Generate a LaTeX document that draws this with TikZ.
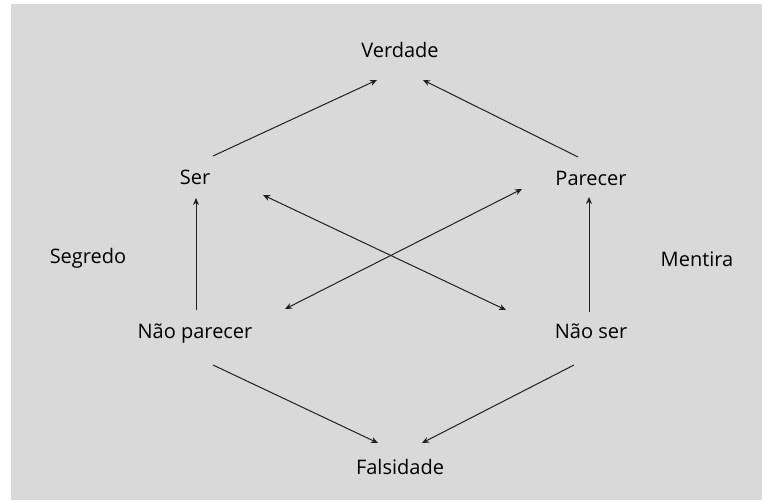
\documentclass[tikz,border=0pt]{standalone}
\usepackage{fontspec}
\setmainfont{Open Sans}
\usepackage{tikz}
\usetikzlibrary{arrows.meta, positioning}
\definecolor{bggray}{HTML}{D9D9D9}
\definecolor{linegray}{HTML}{202020}
\tikzstyle{term} = [inner sep=0pt,
text=black,
font=\fontsize{20pt}{24pt}\selectfont]
\tikzstyle{arrow} = [line width=1pt, draw=linegray,
-{Stealth[length=7pt,width=6pt]}]
\tikzstyle{contra} = [line width=1pt, draw=linegray,
{Stealth[length=7pt,width=6pt]}-{Stealth[length=7pt,width=6pt]}]

\begin{document}
\begin{tikzpicture}[x=1pt, y=1pt, node distance=100pt, on grid]
            \useasboundingbox (0,0) rectangle (762,-500);
            \fill[bggray] (11,-4) rectangle (762,-500);

            \node (verdade) [term] at (400,-50) {Verdade};
            \node (ser) [term, below left=127pt and 205pt of verdade] {Ser};
            \node (parecer) [term, below right=128pt and 191pt of verdade] {Parecer};
            \node (naoparecer) [term, below=157pt of ser] {Não parecer};
            \node (naoser) [term, below=153pt of parecer] {Não ser};
            \node (falsidade) [term, below=417pt of verdade] {Falsidade};
            \node (segredo) [term, below left=81pt and 107pt of ser] {Segredo};
            \node (mentira) [term, below right=81pt and 106pt of parecer] {Mentira};

            % upper side
            \draw [arrow] ([shift={(18,21)}]ser.center) -- ([shift={(-23,-30)}]verdade.center);
            \draw [arrow] ([shift={(-13,21)}]parecer.center) -- ([shift={(23,-30)}]verdade.center);
            % vertical sides
            \draw [arrow] ([shift={(1,24)}]naoparecer.center) -- ([shift={(1,-21)}]ser.center);
            \draw [arrow] ([shift={(-2,19)}]naoser.center) -- ([shift={(-2,-19)}]parecer.center);
            % contradictions
            \draw [contra] ([shift={(68,-18)}]ser.center) -- ([shift={(-85,21)}]naoser.center);
            \draw [contra] ([shift={(90,25)}]naoparecer.center) -- ([shift={(-69,-11)}]parecer.center);
            % lower side
            \draw [arrow] ([shift={(18,-31)}]naoparecer.center) -- ([shift={(-22,24)}]falsidade.center);
            \draw [arrow] ([shift={(-17,-34)}]naoser.center) -- ([shift={(22,24)}]falsidade.center);
        \end{tikzpicture}
\end{document}
